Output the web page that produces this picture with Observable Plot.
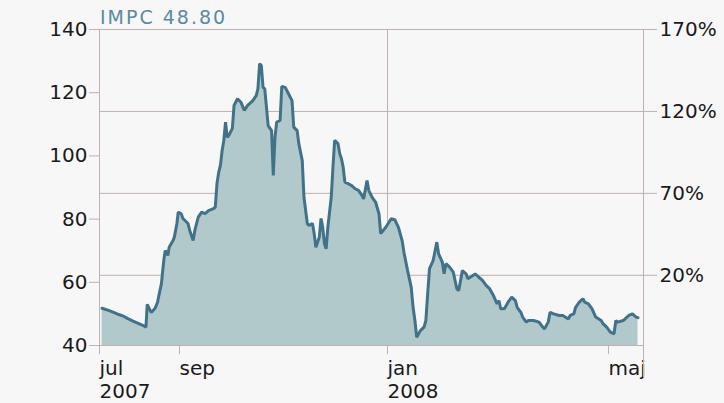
<!DOCTYPE html>
<html>
<head>
<meta charset="utf-8">
<script src="https://cdn.jsdelivr.net/npm/d3@7"></script>
<script src="https://cdn.jsdelivr.net/npm/@observablehq/plot@0.6"></script>
<style>
  html, body { margin: 0; padding: 0; background: #f7f7f7; }
  #wrap { position: relative; width: 724px; height: 403px; overflow: hidden; }
  #title { position: absolute; left: 100px; top: 8px; font-family: "DejaVu Sans", sans-serif; font-size: 19px; line-height: 1; letter-spacing: 2px; color: #5b8aa0; }
</style>
</head>
<body>
<div id="wrap"><div id="title"></div></div>
<script>
const title = "IMPC 48.80";
const basePrice = 51.85;
const yTicks = [40, 60, 80, 100, 120, 140];
const pctTicks = [20, 70, 120, 170];
const xTickDates = ["2007-07-01", "2007-09-01", "2008-01-01", "2008-05-01"];
const xTickLabels = ["jul\n2007", "sep", "jan\n2008", "maj"];
const xEndDate = "2008-05-20";
const gridDates = ["2008-01-01"];

const dates = [
"2007-07-03","2007-07-08","2007-07-12","2007-07-16","2007-07-20","2007-07-23","2007-07-27","2007-07-31","2007-08-04","2007-08-06",
"2007-08-07","2007-08-10","2007-08-13","2007-08-15","2007-08-16","2007-08-18","2007-08-19","2007-08-20","2007-08-21","2007-08-23",
"2007-08-24","2007-08-27","2007-08-28","2007-08-30","2007-08-31",
"2007-09-02","2007-09-03","2007-09-06","2007-09-07","2007-09-09","2007-09-10","2007-09-12","2007-09-14","2007-09-16","2007-09-18",
"2007-09-21","2007-09-22","2007-09-23","2007-09-24","2007-09-25","2007-09-26","2007-09-27","2007-09-28","2007-09-29","2007-09-30",
"2007-10-02","2007-10-03","2007-10-05","2007-10-07","2007-10-09","2007-10-11","2007-10-14","2007-10-16","2007-10-17","2007-10-18",
"2007-10-19","2007-10-20","2007-10-21","2007-10-22","2007-10-23","2007-10-25","2007-10-26","2007-10-27","2007-10-28","2007-10-30",
"2007-10-31","2007-11-02","2007-11-04","2007-11-06","2007-11-07","2007-11-09","2007-11-10","2007-11-12","2007-11-13","2007-11-15",
"2007-11-16","2007-11-18","2007-11-19","2007-11-20","2007-11-22","2007-11-23","2007-11-24","2007-11-25","2007-11-26","2007-11-27",
"2007-11-29","2007-11-30","2007-12-01","2007-12-03","2007-12-04","2007-12-05","2007-12-06","2007-12-07","2007-12-09","2007-12-11",
"2007-12-13","2007-12-15","2007-12-17","2007-12-18","2007-12-20","2007-12-21","2007-12-23","2007-12-25","2007-12-27","2007-12-28",
"2007-12-31",
"2008-01-03","2008-01-05","2008-01-07","2008-01-09","2008-01-10","2008-01-12","2008-01-14","2008-01-15","2008-01-16","2008-01-17",
"2008-01-19","2008-01-21","2008-01-22","2008-01-23","2008-01-24","2008-01-26","2008-01-28","2008-01-29","2008-01-31","2008-02-01",
"2008-02-02","2008-02-04","2008-02-06","2008-02-08","2008-02-09","2008-02-11","2008-02-13","2008-02-14","2008-02-17","2008-02-18",
"2008-02-20","2008-02-22","2008-02-24","2008-02-26","2008-02-28","2008-03-01","2008-03-02","2008-03-03","2008-03-05","2008-03-07",
"2008-03-09","2008-03-11","2008-03-12","2008-03-14","2008-03-15","2008-03-17","2008-03-18","2008-03-21","2008-03-24","2008-03-26",
"2008-03-27","2008-03-29","2008-03-30","2008-04-01","2008-04-04","2008-04-06","2008-04-09","2008-04-10","2008-04-12","2008-04-13",
"2008-04-15","2008-04-17","2008-04-18","2008-04-20","2008-04-22","2008-04-24","2008-04-27","2008-04-28","2008-04-30",
"2008-05-02","2008-05-04","2008-05-05","2008-05-06","2008-05-09","2008-05-10","2008-05-12","2008-05-14","2008-05-16","2008-05-17"
];
const prices = [
51.8,51.1,50.5,49.8,49.2,48.5,47.7,47.0,46.3,45.8,
53.0,50.5,51.7,53.7,55.8,59.6,63.7,67.5,70.1,68.5,
71.1,73.2,74.3,78.6,82.2,
81.7,80.2,78.6,76.4,73.2,76.4,80.6,82.2,81.7,82.7,
83.3,83.8,91.3,94.8,97.0,101.7,104.9,110.7,105.9,106.5,
108.7,116.0,118.1,117.0,114.4,116.0,117.5,119.1,121.2,129.2,
128.6,121.7,121.2,115.4,109.6,108.0,93.8,105.9,110.7,111.2,
122.0,121.7,119.6,117.5,109.1,108.0,103.8,98.5,86.9,78.5,
78.0,78.6,75.4,71.1,74.3,80.2,77.4,72.3,70.6,77.4,
86.9,96.4,104.9,103.8,100.7,99.1,96.4,91.7,91.2,90.6,
89.6,89.1,87.5,86.4,92.2,89.1,86.9,85.4,81.7,75.4,
77.4,
80.1,79.8,77.4,73.2,69.5,63.7,58.4,52.1,47.9,42.6,
44.7,45.8,47.9,56.4,64.3,66.9,72.7,69.0,66.4,62.7,
65.9,64.8,63.2,57.9,57.4,63.7,62.7,61.1,62.2,62.7,
61.6,60.6,59.0,57.9,55.8,53.2,54.2,51.6,51.6,53.7,
55.3,54.2,52.1,50.5,49.0,47.4,47.9,47.9,47.4,45.8,
45.3,47.4,50.5,50.0,49.5,49.5,48.4,49.5,50.0,52.1,
53.7,54.8,53.7,53.2,51.6,49.0,47.9,46.9,45.8,
44.2,43.7,47.9,47.4,47.9,48.4,49.5,50.0,49.0,48.8
];

const parse = d3.utcParse("%Y-%m-%d");
const data = dates.map((d, i) => ({date: parse(d), price: prices[i]}));
const xTicks = xTickDates.map(parse);
const labelOf = new Map(xTicks.map((d, i) => [+d, xTickLabels[i]]));
const pctPrices = pctTicks.map(p => basePrice * (1 + p / 100));
const xDomain = [...xTicks, parse(xEndDate)];

const gridColor = "#bfb1ae";
const textColor = "#1a1a1a";

document.getElementById("title").textContent = title;

const chart = Plot.plot({
  width: 724,
  height: 403,
  marginLeft: 99,
  marginRight: 81,
  marginTop: 29,
  marginBottom: 58,
  style: {background: "transparent", fontFamily: "DejaVu Sans, sans-serif", fontSize: "20px", color: textColor},
  x: {type: "utc", domain: xDomain, range: [99, 179, 387, 608, 643], label: null},
  y: {domain: [yTicks[0], yTicks[yTicks.length - 1]], label: null},
  marks: [
    Plot.gridY(pctPrices, {stroke: gridColor, strokeOpacity: 1}),
    Plot.gridX(gridDates.map(parse), {stroke: gridColor, strokeOpacity: 1}),
    Plot.areaY(data, {x: "date", y1: yTicks[0], y2: "price", fill: "#b2c9cb"}),
    Plot.lineY(data, {x: "date", y: "price", stroke: "#41728a", strokeWidth: 3, strokeLinejoin: "miter"}),
    Plot.frame({stroke: gridColor}),
    Plot.axisY(yTicks, {anchor: "left", tickSize: 10, tickPadding: 2, stroke: gridColor, fill: textColor, label: null}),
    Plot.axisY(pctPrices, {anchor: "right", tickSize: 13, tickPadding: 3, stroke: gridColor, fill: textColor, label: null,
      tickFormat: d => Math.round((d / basePrice - 1) * 100) + "%"}),
    Plot.axisX(xTicks, {anchor: "bottom", tickSize: 9, tickPadding: 4, textAnchor: "start", lineHeight: 1.15,
      stroke: gridColor, fill: textColor, label: null, tickFormat: d => labelOf.get(+d)}),
    Plot.axisX([parse(xEndDate)], {anchor: "bottom", tickSize: 32, stroke: gridColor, label: null, tickFormat: () => ""})
  ]
});
document.getElementById("wrap").appendChild(chart);
</script>
</body>
</html>
